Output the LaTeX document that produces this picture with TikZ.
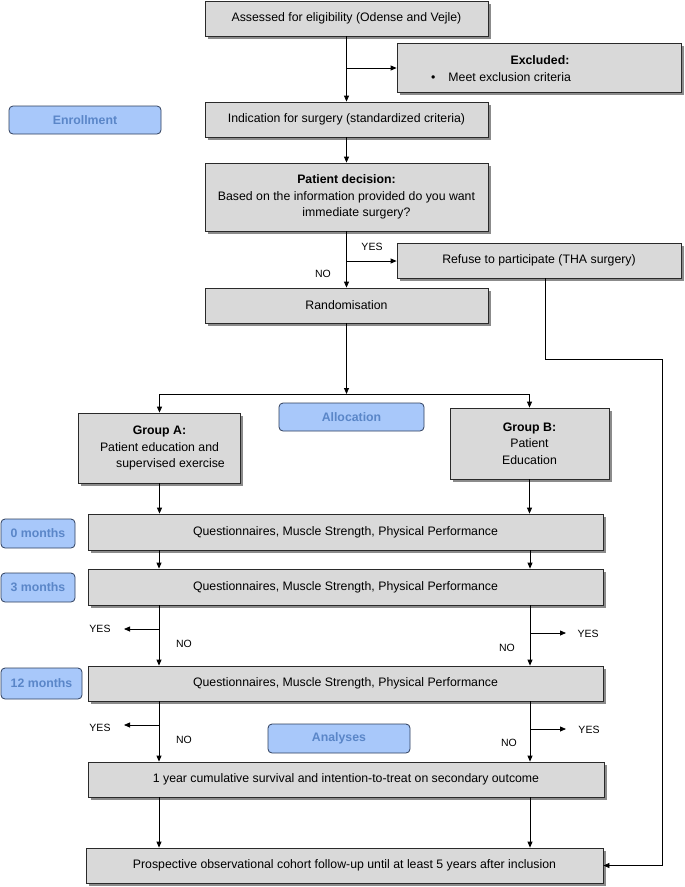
\documentclass[tikz,border=0pt]{standalone}
\usepackage{fontspec}
\setmainfont{Liberation Sans}
\usetikzlibrary{arrows.meta,shadows}
\definecolor{boxgray}{HTML}{D9D9D9}
\definecolor{boxborder}{HTML}{2A2A2A}
\definecolor{lblfill}{HTML}{A8C8FA}
\definecolor{lbltext}{HTML}{5A86C8}
\definecolor{lblborder}{HTML}{2E3E5C}
\definecolor{shadowgray}{HTML}{777777}
\begin{document}
\begin{tikzpicture}[x=1pt,y=-1pt,
  every node/.style={font=\fontsize{12.3}{16.5}\selectfont},
  gbox/.style={draw=boxborder, line width=0.8pt, fill=boxgray, inner sep=0pt, align=center,
    drop shadow={shadow xshift=2.5pt, shadow yshift=-2.5pt, fill=shadowgray, opacity=0.85}},
  lbl/.style={draw=lblborder, line width=0.8pt, fill=lblfill, rounded corners=4pt, inner sep=0pt,
    text=lbltext, font=\bfseries\fontsize{12.3}{14}\selectfont},
  yn/.style={font=\fontsize{10.5}{12}\selectfont, inner sep=0pt},
  plain/.style={inner sep=0pt},
  arr/.style={-{Triangle[length=6pt,width=5pt]}, line width=0.8pt, draw=black},
  ln/.style={line width=0.8pt, draw=black}
]
\useasboundingbox (0,0) rectangle (685,887);

% main boxes
\node[gbox, minimum width=283pt, minimum height=35pt] (assess) at (346.5,18.5) {Assessed for eligibility (Odense and Vejle)};
\node[gbox, minimum width=284pt, minimum height=49pt] (excl) at (539,67.5) {};
\node[plain, font=\bfseries\fontsize{12.3}{14}\selectfont] (exclt) at (540,60) {Excluded:};
\node[plain, anchor=west] (exclb) at (431,77) {\textbullet\hspace{13pt}Meet exclusion criteria};
\node[gbox, minimum width=283pt, minimum height=35pt] (indic) at (346.5,119.5) {Indication for surgery (standardized criteria)};
\node[gbox, minimum width=283pt, minimum height=68pt] (decision) at (346.5,197) {\textbf{Patient decision:}\\Based on the information provided do you want\\\hspace*{20pt}immediate surgery?};
\node[gbox, minimum width=284pt, minimum height=35pt] (refuse) at (539,260.5) {Refuse to participate (THA surgery)};
\node[gbox, minimum width=283pt, minimum height=35pt] (random) at (346.5,305.5) {Randomisation};
\node[gbox, minimum width=162pt, minimum height=70pt] (groupA) at (159.5,448) {\textbf{Group A:}\\Patient education and\\\hspace*{22pt}supervised exercise};
\node[gbox, minimum width=159pt, minimum height=71pt] (groupB) at (529.5,443.5) {\textbf{Group B:}\\Patient\\Education};
\node[gbox, minimum width=515pt, minimum height=36pt] (m0) at (345.5,532) {Questionnaires, Muscle Strength, Physical Performance};
\node[gbox, minimum width=515pt, minimum height=36pt] (m3) at (345.5,587) {Questionnaires, Muscle Strength, Physical Performance};
\node[gbox, minimum width=515pt, minimum height=35pt] (m12) at (345.5,683.5) {Questionnaires, Muscle Strength, Physical Performance};
\node[gbox, minimum width=516pt, minimum height=35pt] (oneyr) at (346,779.5) {1 year cumulative survival and intention-to-treat on secondary outcome};
\node[gbox, minimum width=517pt, minimum height=35pt] (prosp) at (344.5,865.5) {Prospective observational cohort follow-up until at least 5 years after inclusion};

% blue labels
\node[lbl, minimum width=152pt, minimum height=28pt] (enroll) at (85,120) {Enrollment};
\node[lbl, minimum width=145pt, minimum height=28pt] (alloc) at (351.5,417) {Allocation};
\node[lbl, minimum width=74pt, minimum height=29pt] (lab0) at (38,533.5) {0 months};
\node[lbl, minimum width=74pt, minimum height=29pt] (lab3) at (38,587.5) {3 months};
\node[lbl, minimum width=81pt, minimum height=31pt] (lab12) at (41.5,683.5) {12 months};
\node[lbl, minimum width=142pt, minimum height=29pt] (analyses) at (339,738.5) {Analyses};

% helper coordinates
\coordinate (cl) at (159,0);
\coordinate (cr) at (530,0);
\coordinate (bex) at (346.5,68);
\coordinate (bref) at (346.5,261);
\coordinate (split) at (346.5,394);
\coordinate (r1) at (545,359);
\coordinate (rt) at (662,359);
\coordinate (yl1) at (124,629);
\coordinate (yr1) at (566,633);
\coordinate (yl2) at (124,725);
\coordinate (yr2) at (566,729);

% top connectors
\draw[arr] (assess) -- (indic);
\draw[arr] (bex) -- (bex -| excl.west);
\draw[arr] (indic) -- (decision);
\draw[arr] (decision) -- (random);
\draw[arr] (bref) -- (bref -| refuse.west);
\node[yn] (yes0) at (372,247) {YES};
\node[yn] (no0) at (323,274) {NO};
\draw[arr] (r1 |- refuse.south) -- (r1) -- (rt) -- (rt |- prosp.east) -- (prosp.east);

% allocation
\draw[arr] (random) -- (split);
\draw[arr] (split) -| (groupA.north);
\draw[arr] (split) -| (groupB.north);
\draw[arr] (groupA.south) -- (groupA.south |- m0.north);
\draw[arr] (groupB.south) -- (groupB.south |- m0.north);

% follow-up
\draw[arr] (m0.south -| cl) -- (m3.north -| cl);
\draw[arr] (m0.south -| cr) -- (m3.north -| cr);
\draw[arr] (m3.south -| cl) -- (m12.north -| cl);
\draw[arr] (m3.south -| cr) -- (m12.north -| cr);
\draw[arr] (yl1 -| cl) -- (yl1);
\draw[arr] (yr1 -| cr) -- (yr1);
\node[yn] (yes1) at (100,629) {YES};
\node[yn] (no1) at (184,644) {NO};
\node[yn] (yes2) at (588,634) {YES};
\node[yn] (no2) at (507,648) {NO};

\draw[arr] (m12.south -| cl) -- (oneyr.north -| cl);
\draw[arr] (m12.south -| cr) -- (oneyr.north -| cr);
\draw[arr] (yl2 -| cl) -- (yl2);
\draw[arr] (yr2 -| cr) -- (yr2);
\node[yn] (yes3) at (100,728) {YES};
\node[yn] (no3) at (184,740) {NO};
\node[yn] (yes4) at (589,730) {YES};
\node[yn] (no4) at (509,743) {NO};

\draw[arr] (oneyr.south -| cl) -- (prosp.north -| cl);
\draw[arr] (oneyr.south -| cr) -- (prosp.north -| cr);
\end{tikzpicture}
\end{document}
